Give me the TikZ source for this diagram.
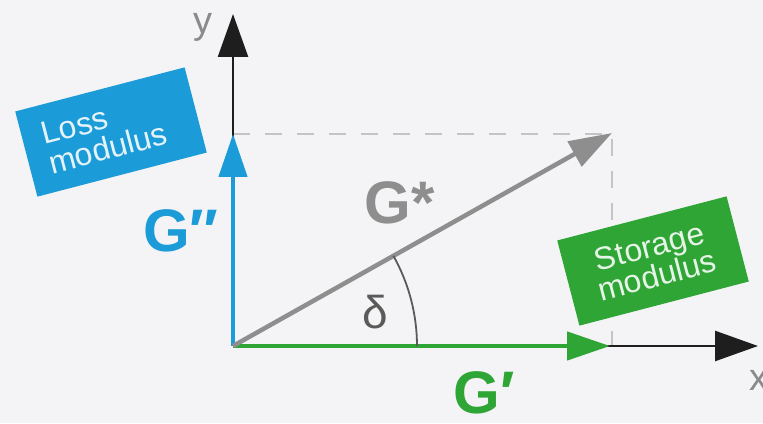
\documentclass[tikz,border=0pt]{standalone}
\usepackage{fontspec}
\setmainfont{Liberation Sans}
\usetikzlibrary{arrows.meta}
\definecolor{bg}{HTML}{F4F4F6}
\definecolor{lossblue}{HTML}{1B9BD7}
\definecolor{storgreen}{HTML}{2EA535}
\definecolor{vecgray}{HTML}{8E8E8E}
\definecolor{dashgray}{HTML}{C4C4C4}
\definecolor{axisblack}{HTML}{1E1E1E}
\definecolor{labgray}{HTML}{8A8A8A}
\definecolor{arcgray}{HTML}{5A5A5A}
\begin{document}
\begin{tikzpicture}[x=1pt,y=1pt,
  axis/.style={draw=axisblack, line width=2.5pt, -{Triangle[length=43pt,width=30pt]}},
  vec/.style={line width=4.5pt, -{Triangle[length=43pt,width=28pt]}},
  guide/.style={draw=dashgray, line width=2pt, dash pattern=on 17pt off 15pt},
  modbox/.style={rotate=14.6, minimum width=175pt, minimum height=88pt, inner sep=0pt,
    fill=#1, text=white!88!#1, font=\fontsize{32}{30}\selectfont},
  big/.style={font=\fontsize{60}{60}\selectfont\bfseries, inner sep=0pt},
  axlabel/.style={font=\fontsize{38}{38}\selectfont, text=labgray, inner sep=0pt},
]
\fill[bg] (0,0) rectangle (763,423);
\useasboundingbox (0,0) rectangle (763,423);
\coordinate (O) at (233,77);
\coordinate (Yend) at (233,409);
\coordinate (Xend) at (758,77);
\coordinate (Gpp) at (233,289);
\coordinate (Gp) at (610,77);
\coordinate (Gs) at (612,290);
\coordinate (C) at (612,289);
\coordinate (Cx) at (612,77);

\draw[guide] (Gpp) -- (C) -- (Cx);
\draw[axis] (O) -- (Yend);
\draw[axis] (O) -- (Xend);
\draw[vec, storgreen] (O) -- (Gp);
\draw[vec, lossblue] (O) -- (Gpp);
\draw[vec, vecgray] (O) -- (Gs);
\draw[arcgray, line width=1.8pt] (O) ++(0:184) arc[start angle=0, end angle=29.3, radius=184];

\node[axlabel] (ylab) at (203,396) {y};
\node[axlabel, anchor=west] (xlab) at (749,43) {x};
\node[font=\fontsize{46}{46}\selectfont, text=arcgray, inner sep=0pt] (delta) at (375,111) {δ};
\node[big, text=vecgray] (Gstar) at (400,220) {G*};
\node[big, text=lossblue] (Gdd) at (181,192) {G″};
\node[big, text=storgreen] (Gd) at (484,30) {G′};

\node[modbox=lossblue, align=left, text width=135pt] (loss) at (111,291) {Loss\\modulus};
\node[modbox=storgreen, align=center] (stor) at (653,162) {Storage\\modulus};
\end{tikzpicture}
\end{document}
